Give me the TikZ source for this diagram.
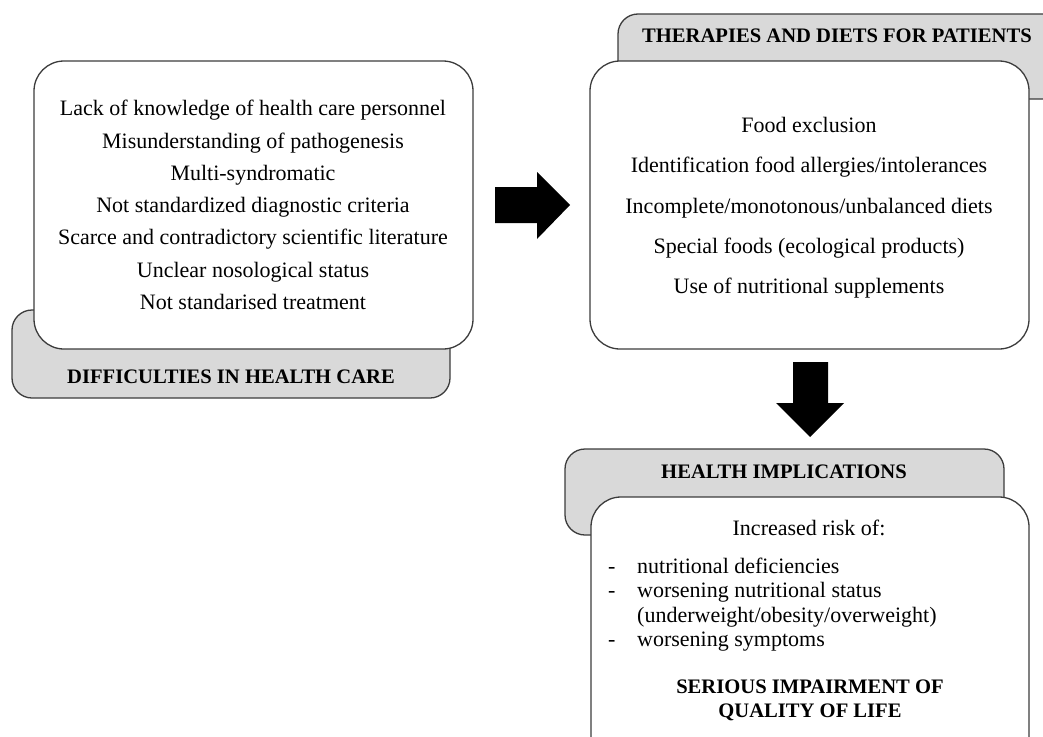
\documentclass[tikz,border=0pt]{standalone}
\usepackage{fontspec}
\setmainfont{Liberation Serif}
\definecolor{edge}{HTML}{3C3C3C}
\definecolor{tabgrey}{HTML}{D9D9D9}
\tikzset{
  tabbox/.style={draw=edge, line width=1.3pt, fill=tabgrey, rounded corners=20pt},
  mainbox/.style={draw=edge, line width=1.3pt, fill=white, rounded corners=30pt},
  bodytext/.style={font=\fontsize{22}{32.3}\selectfont, align=center, inner sep=0pt},
  headtext/.style={font=\fontsize{20.6}{22}\selectfont\bfseries, inner sep=0pt},
  blockarrow/.style={fill=black, draw=none}
}
\begin{document}
\begin{tikzpicture}[x=1pt,y=-1pt]
\useasboundingbox (0,0) rectangle (1043,736);
\clip (0,0) rectangle (1043,736);
% left group
\draw[tabbox] (12,310) rectangle (450,398);
\node[headtext] (lefthead) at (231,377) {DIFFICULTIES IN HEALTH CARE};
\draw[mainbox] (34,61) rectangle (473,349);
\node[bodytext] (lefttext) at (253,205) {Lack of knowledge of health care personnel\\
Misunderstanding of pathogenesis\\
Multi-syndromatic\\
Not standardized diagnostic criteria\\
Scarce and contradictory scientific literature\\
Unclear nosological status\\
Not standarised treatment};
% right arrow
\fill[blockarrow] (495,187) -- (537,187) -- (537,172) -- (570,205) -- (537,239) -- (537,223) -- (495,223) -- cycle;
% right group
\draw[tabbox] (618,14) rectangle (1090,99);
\node[headtext] (righthead) at (837,36) {THERAPIES AND DIETS FOR PATIENTS};
\draw[mainbox] (590,61) rectangle (1029,349);
\node[bodytext, font=\fontsize{22}{40.3}\selectfont] (righttext) at (809,208) {Food exclusion\\
Identification food allergies/intolerances\\
Incomplete/monotonous/unbalanced diets\\
Special foods (ecological products)\\
Use of nutritional supplements};
% down arrow
\fill[blockarrow] (793,362) -- (828,362) -- (828,403) -- (844,403) -- (810,437) -- (776,403) -- (793,403) -- cycle;
% bottom group
\draw[tabbox] (565,449) rectangle (1004,535);
\node[headtext] (bottomhead) at (784,472) {HEALTH IMPLICATIONS};
\draw[mainbox] (591,497) rectangle (1029,780);
\node[bodytext] (risk) at (809,528) {Increased risk of:};
\node[font=\fontsize{22}{24.2}\selectfont, align=left, inner sep=0pt, anchor=north west] (risklist) at (608,558)
{\makebox[29pt][l]{-}nutritional deficiencies\\
\makebox[29pt][l]{-}worsening nutritional status\\
\hspace*{29pt}(underweight/obesity/overweight)\\
\makebox[29pt][l]{-}worsening symptoms};
\node[headtext, align=center, font=\fontsize{20.6}{24}\selectfont\bfseries] (serious) at (810,700) {SERIOUS IMPAIRMENT OF\\QUALITY OF LIFE};
\end{tikzpicture}
\end{document}
